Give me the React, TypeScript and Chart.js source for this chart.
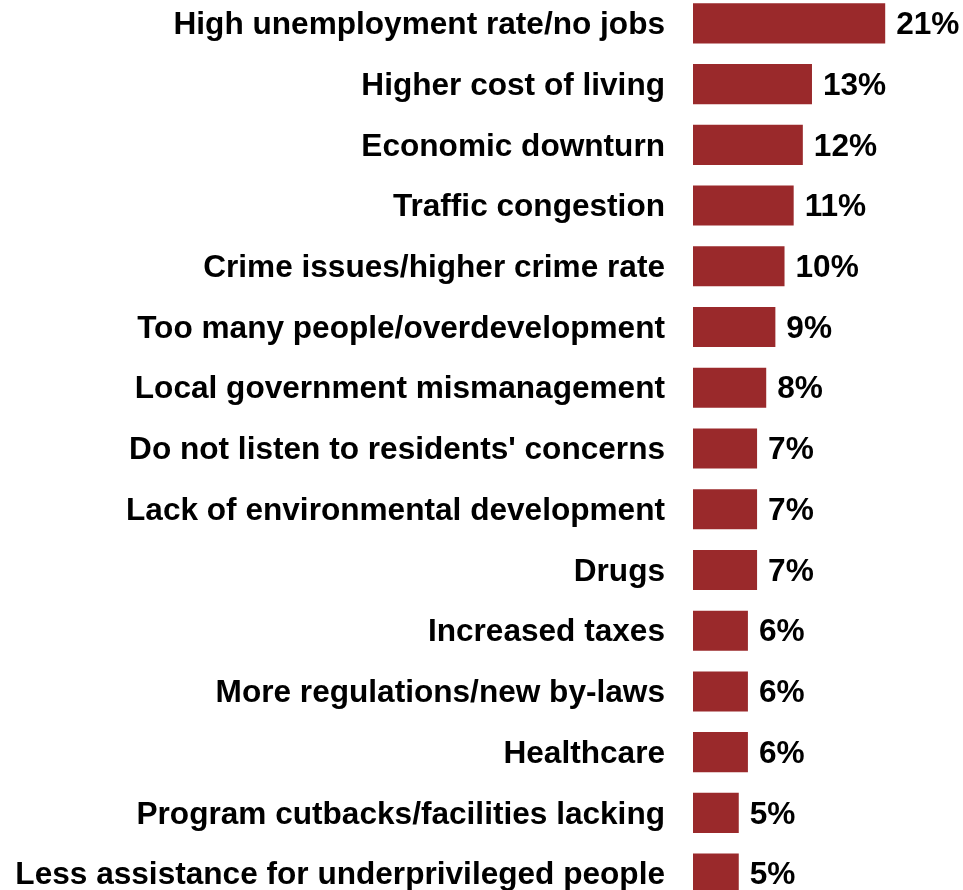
import React, { useEffect, useRef } from "react";
import { Chart, registerables } from "chart.js";

Chart.register(...registerables);

const categories = [
  "High unemployment rate/no jobs",
  "Higher cost of living",
  "Economic downturn",
  "Traffic congestion",
  "Crime issues/higher crime rate",
  "Too many people/overdevelopment",
  "Local government mismanagement",
  "Do not listen to residents' concerns",
  "Lack of environmental development",
  "Drugs",
  "Increased taxes",
  "More regulations/new by-laws",
  "Healthcare",
  "Program cutbacks/facilities lacking",
  "Less assistance for underprivileged people",
];

const values = [21, 13, 12, 11, 10, 9, 8, 7, 7, 7, 6, 6, 6, 5, 5];

const FONT_FAMILY = "'Liberation Sans', Arial, Helvetica, sans-serif";
const FONT_SIZE = 31.6;
const BAR_COLOR = "#9A292B";

const valueLabels = {
  id: "valueLabels",
  afterDatasetsDraw(chart: any) {
    const ctx = chart.ctx;
    const meta = chart.getDatasetMeta(0);
    ctx.save();
    ctx.font = `bold ${FONT_SIZE}px ${FONT_FAMILY}`;
    ctx.fillStyle = "#000000";
    ctx.textAlign = "left";
    ctx.textBaseline = "middle";
    meta.data.forEach((bar: any, i: number) => {
      ctx.fillText(`${values[i]}%`, bar.x + 11, bar.y + 2);
    });
    ctx.restore();
  },
};

export default function App() {
  const canvasRef = useRef<HTMLCanvasElement | null>(null);

  useEffect(() => {
    if (!canvasRef.current) return;
    const chart = new Chart(canvasRef.current, {
      type: "bar",
      data: {
        labels: categories,
        datasets: [
          {
            data: values,
            backgroundColor: BAR_COLOR,
            borderWidth: 0,
            barPercentage: 0.66,
            categoryPercentage: 1,
          },
        ],
      },
      options: {
        indexAxis: "y",
        responsive: false,
        animation: false,
        layout: { padding: 0 },
        plugins: {
          legend: { display: false },
          tooltip: { enabled: false },
          title: { display: false },
        },
        scales: {
          x: {
            display: false,
            min: 0,
            max: 29.5,
          },
          y: {
            grid: { display: false, drawTicks: false },
            border: { display: false },
            ticks: {
              color: "#000000",
              padding: 28,
              labelOffset: 2,
              font: { family: FONT_FAMILY, size: FONT_SIZE, weight: "bold" },
            },
            afterFit(scale: any) {
              scale.width = 693;
              scale.paddingTop = 0;
              scale.paddingBottom = 0;
            },
          },
        },
      },
      plugins: [valueLabels],
    });
    return () => chart.destroy();
  }, []);

  return (
    <div
      style={{
        position: "fixed",
        left: 0,
        top: 0,
        width: 963,
        height: 890,
        overflow: "hidden",
        background: "#ffffff",
      }}
    >
      <canvas
        ref={canvasRef}
        width={963}
        height={911}
        style={{ position: "absolute", left: 0, top: -7, width: 963, height: 911 }}
      />
    </div>
  );
}
